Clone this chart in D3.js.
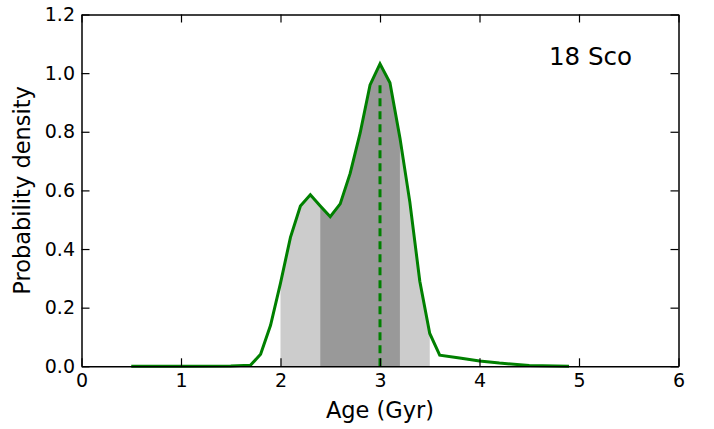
<!DOCTYPE html>
<html><head><meta charset="utf-8">
<script src="https://cdn.jsdelivr.net/npm/d3@7"></script>
<style>html,body{margin:0;padding:0;background:#fff;}svg{display:block;}</style>
</head><body>
<script>
const ages = [0.5, 1.0, 1.5, 1.7, 1.8, 1.9, 2.0, 2.1, 2.2, 2.3, 2.4, 2.5, 2.6, 2.7, 2.8, 2.9, 3.0, 3.1, 3.2, 3.3, 3.4, 3.5, 3.6, 3.8, 4.0, 4.2, 4.5, 4.9];
const density = [0.0, 0.0005, 0.001, 0.004, 0.041, 0.14, 0.284, 0.44, 0.547, 0.585, 0.547, 0.51, 0.554, 0.658, 0.795, 0.96, 1.032, 0.967, 0.78, 0.56, 0.29, 0.112, 0.038, 0.028, 0.018, 0.011, 0.003, 0.0];
const xTicks = [0, 1, 2, 3, 4, 5, 6];
const yTicks = [0.0, 0.2, 0.4, 0.6, 0.8, 1.0, 1.2];
const outerRange = [2.0, 3.5];
const innerRange = [2.4, 3.2];
const bestAge = 3.0;
const bestTop = 0.975;
const starName = "18 Sco";

const W = 714, H = 429;
const m = {left: 81.5, right: 714 - 678.5, top: 14.5, bottom: 429 - 366.3};
const svg = d3.select("body").append("svg").attr("width", W).attr("height", H);
const x = d3.scaleLinear().domain([0, 6]).range([m.left, W - m.right]);
const y = d3.scaleLinear().domain([0, 1.2]).range([H - m.bottom, m.top]);

const pts = ages.map((a, i) => [a, density[i]]);
function interp(a) {
  for (let i = 0; i < pts.length - 1; i++) {
    if (a >= pts[i][0] && a <= pts[i+1][0]) {
      const t = (a - pts[i][0]) / (pts[i+1][0] - pts[i][0]);
      return pts[i][1] + t * (pts[i+1][1] - pts[i][1]);
    }
  }
  return 0;
}
function band(lo, hi) {
  const arr = [[lo, interp(lo)]];
  pts.forEach(p => { if (p[0] > lo && p[0] < hi) arr.push(p); });
  arr.push([hi, interp(hi)]);
  return arr;
}
const area = d3.area().x(d => x(d[0])).y0(y(0)).y1(d => y(d[1]));
svg.append("path").datum(band(outerRange[0], outerRange[1])).attr("d", area).attr("fill", "#cccccc");
svg.append("path").datum(band(innerRange[0], innerRange[1])).attr("d", area).attr("fill", "#999999");

svg.append("line").attr("x1", x(bestAge)).attr("x2", x(bestAge)).attr("y1", y(0)).attr("y2", y(bestTop))
  .attr("stroke", "#008000").attr("stroke-width", 3).attr("stroke-dasharray", "8,5");

const line = d3.line().x(d => x(d[0])).y(d => y(d[1]));
svg.append("path").datum(pts).attr("d", line).attr("fill", "none").attr("stroke", "#008000")
  .attr("stroke-width", 3).attr("stroke-linejoin", "miter");

const font = "'DejaVu Sans', sans-serif";
const tl = 8;
const gb = svg.append("g").attr("transform", `translate(0,${y(0)})`)
  .call(d3.axisBottom(x).tickValues(xTicks).tickFormat(d3.format("d")).tickSizeInner(-tl).tickSizeOuter(0).tickPadding(7));
const gt = svg.append("g").attr("transform", `translate(0,${y(1.2)})`)
  .call(d3.axisTop(x).tickValues(xTicks).tickFormat("").tickSizeInner(-tl).tickSizeOuter(0));
const gl = svg.append("g").attr("transform", `translate(${x(0)},0)`)
  .call(d3.axisLeft(y).tickValues(yTicks).tickFormat(d3.format(".1f")).tickSizeInner(-tl).tickSizeOuter(0).tickPadding(6.5));
const gr = svg.append("g").attr("transform", `translate(${x(6)},0)`)
  .call(d3.axisRight(y).tickValues(yTicks).tickFormat("").tickSizeInner(-tl).tickSizeOuter(0));
[gb, gt, gl, gr].forEach(g => {
  g.select(".domain").attr("stroke", "#000").attr("stroke-width", 1.5);
  g.selectAll(".tick line").attr("stroke", "#000").attr("stroke-width", 1.2);
  g.selectAll("text").attr("font-family", font).attr("font-size", 19).attr("fill", "#000");
});
gb.selectAll("text").attr("dy", "0.72em");

svg.append("text").attr("x", (x(0) + x(6)) / 2).attr("y", 418).attr("text-anchor", "middle")
  .attr("font-family", font).attr("font-size", 22.5).text("Age (Gyr)");
svg.append("text").attr("transform", `translate(30,${(y(0) + y(1.2)) / 2}) rotate(-90)`).attr("text-anchor", "middle")
  .attr("font-family", font).attr("font-size", 22.5).text("Probability density");
svg.append("text").attr("x", 549).attr("y", 65).attr("font-family", font).attr("font-size", 24.5).text(starName);
</script>
</body></html>
